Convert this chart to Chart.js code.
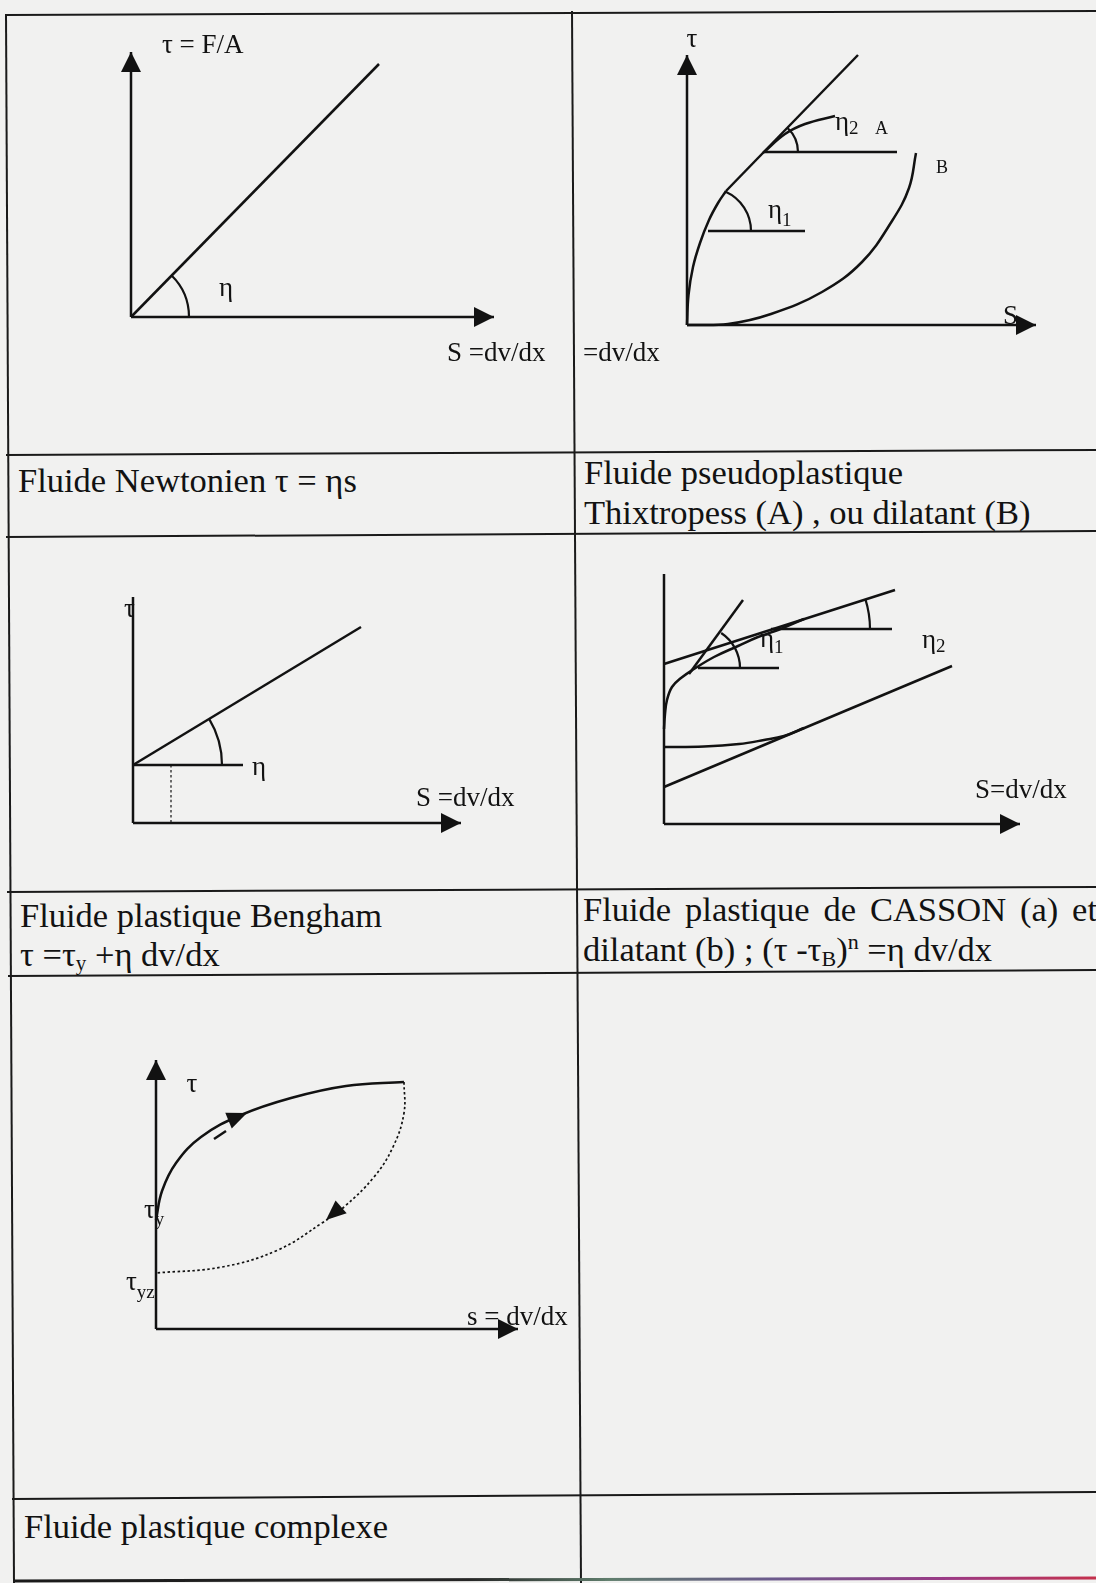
<!DOCTYPE html>
<html>
<head>
<meta charset="utf-8">
<script src="https://cdn.jsdelivr.net/npm/chart.js@4.4.1/dist/chart.umd.min.js"></script>
<style>
  html, body { margin: 0; padding: 0; background: #f1f1f0; }
  #page { position: relative; width: 1096px; height: 1583px; overflow: hidden; background: #f1f1f0; }
  #grid { position: absolute; left: 0; top: 0; }
  #grid text { font-family: "Liberation Serif", "Times New Roman", serif; font-size: 34.5px; fill: #121212; }
  canvas { position: absolute; }
</style>
</head>
<body>
<div id="page">
  <svg id="grid" width="1096" height="1583" xmlns="http://www.w3.org/2000/svg">
    <defs>
      <linearGradient id="bottomInk" x1="14" y1="0" x2="1096" y2="0" gradientUnits="userSpaceOnUse">
        <stop offset="0" stop-color="#1a1a1a"/>
        <stop offset="0.42" stop-color="#262626"/>
        <stop offset="0.55" stop-color="#5f7d6c"/>
        <stop offset="0.7" stop-color="#6b5a8c"/>
        <stop offset="0.86" stop-color="#9a3a86"/>
        <stop offset="1" stop-color="#c4304c"/>
      </linearGradient>
    </defs>
    <g stroke="#1a1a1a" stroke-width="2" fill="none">
      <line x1="6" y1="15" x2="1096" y2="11"/>
      <line x1="6" y1="455" x2="1096" y2="450"/>
      <line x1="6" y1="537" x2="1096" y2="531"/>
      <line x1="7" y1="892" x2="1096" y2="887"/>
      <line x1="8" y1="976" x2="1096" y2="970"/>
      <line x1="12" y1="1499" x2="1096" y2="1492"/>
      <line x1="6" y1="14" x2="14" y2="1583"/>
      <line x1="572" y1="11" x2="581" y2="1583"/>
    </g>
    <line x1="14" y1="1581" x2="1096" y2="1578" stroke="url(#bottomInk)" stroke-width="3"/>
    <text x="18" y="492">Fluide Newtonien τ = ηs</text>
    <text x="584" y="484">Fluide pseudoplastique</text>
    <text x="584" y="524">Thixtropess (A) , ou dilatant (B)</text>
    <text x="20" y="927">Fluide plastique Bengham</text>
    <text x="20" y="966">τ =τ<tspan font-size="21" dy="4">y</tspan><tspan dy="-4"> +η dv/dx</tspan></text>
    <text id="cassonLine" x="583" y="921">Fluide plastique de CASSON (a) et</text>
    <text x="583" y="961">dilatant (b) ; (τ -τ<tspan font-size="22" dy="5">B</tspan><tspan dy="-5">)</tspan><tspan font-size="22" dy="-12">n</tspan><tspan dy="12"> =η dv/dx</tspan></text>
    <text x="24" y="1538">Fluide plastique complexe</text>
  </svg>
</div>

<script>
// Units: every diagram uses the same abstract unit (shear rate on x, shear stress on y).

// ---- Fluide Newtonien : tau = eta * s ----
const newtonAxisX = [[0, 0], [36.3, 0]];
const newtonAxisY = [[0, 0], [0, 26.5]];
const newtonFlow  = [[0, 0], [24.8, 25.3]];

// ---- Fluide pseudoplastique (A) et dilatant (B) ----
const pseudoAxisX   = [[0, 0], [34.9, 0]];
const pseudoAxisY   = [[0, 0], [0, 27.0]];
const pseudoCurveA  = [[0, 0], [0.15, 3.0], [0.6, 5.8], [1.3, 8.2], [2.2, 10.5], [3.1, 12.2], [3.9, 13.4]];
const pseudoTangent = [[3.9, 13.4], [17.1, 27.0]];
const pseudoBranchA = [[7.6, 17.2], [9.8, 19.1], [11.8, 20.1], [14.8, 20.9]];
const pseudoCurveB  = [[0, 0], [4.1, 0.1], [8.4, 1.1], [13.5, 3.3], [17.5, 6.3],
                       [20.5, 10.4], [22.2, 13.7], [22.9, 17.2]];
const pseudoLevel1  = [[2.1, 9.4], [11.8, 9.4]];
const pseudoLevel2  = [[7.8, 17.3], [21.0, 17.3]];

// ---- Fluide plastique de Bingham : tau = tau_y + eta * s ----
const binghamAxisX = [[0, 0], [32.8, 0]];
const binghamAxisY = [[0, 0], [0, 22.6]];
const binghamFlow  = [[0, 5.8], [22.8, 19.6]];
const binghamLevel = [[0, 5.8], [11.0, 5.8]];
const binghamYield = [[3.8, 5.8], [3.8, 0]];

// ---- Fluide plastique de Casson (a) et dilatant (b) ----
const cassonAxisX   = [[0, 0], [35.6, 0]];
const cassonAxisY   = [[0, 0], [0, 25.0]];
const cassonCurveA  = [[0, 9.5], [0.1, 11.0], [0.3, 12.4], [0.8, 13.7], [1.7, 14.6], [3.0, 15.5],
                       [5.0, 16.7], [7.4, 17.8], [9.4, 18.7], [11.4, 19.4], [14.0, 20.5]];
const cassonLineA   = [[0, 16.0], [23.1, 23.4]];
const cassonTangent = [[2.5, 15.0], [7.9, 22.4]];
const cassonLevel1  = [[3.4, 15.6], [11.5, 15.6]];
const cassonLevel2  = [[10.7, 19.5], [22.8, 19.5]];
const cassonCurveB  = [[0, 7.7], [4.0, 7.75], [7.5, 8.0], [10.0, 8.4], [12.0, 8.8], [14.0, 9.6]];
const cassonLineB   = [[0, 3.7], [28.8, 15.8]];

// ---- Fluide plastique complexe (boucle d'hysteresis) ----
const complexAxisX     = [[0, 0], [36.2, 0]];
const complexAxisY     = [[0, 0], [0, 26.9]];
const complexLoad      = [[0, 10.9], [0.6, 13.8], [2.0, 16.6], [4.5, 19.2], [8.5, 21.4],
                          [13.5, 23.1], [19.0, 24.3], [24.8, 24.7]];
const complexUnload    = [[24.8, 24.7], [24.8, 21.6], [23.7, 18.2], [21.8, 15.2], [18.8, 12.2],
                          [16.6, 10.6], [12.2, 7.9], [6.6, 6.2], [0, 5.6]];
const complexUpArrow   = [[7.4, 20.9], [9.1, 21.6]];
const complexUpStroke  = [[5.8, 19.0], [7.0, 19.8]];
const complexDownArrow = [[18.5, 12.2], [17.0, 10.9]];

// ---------------------------------------------------------------------
const INK = '#121212';
const PX_PER_UNIT = 10;
const LABEL_FONT = '"Liberation Serif", "Times New Roman", serif';
const LABEL_SIZE = 27;

const toXY = arr => arr.map(p => ({ x: p[0], y: p[1] }));

function line(data, extra) {
  return Object.assign({
    data: toXY(data), showLine: true, borderColor: INK, borderWidth: 2.5,
    tension: 0, pointRadius: 0, fill: false
  }, extra || {});
}
const axis  = data => line(data, { arrowHead: { length: 20, half: 10 } });
const plain = data => line(data);
const curve = data => line(data, { tension: 0.4 });
const dotted = (data, w) => line(data, { borderDash: [2.5, 2.5], borderWidth: w || 1.7, tension: 0.4 });
const markerArrow = data => line(data, { showLine: false, arrowHead: { length: 20, half: 8.5 } });

// Arrow heads, angle arcs and text annotations placed through the chart scales
const sketchPlugin = {
  id: 'sketch',
  afterDatasetsDraw(chart, args, opts) {
    const ctx = chart.ctx, xs = chart.scales.x, ys = chart.scales.y;
    const P = p => [xs.getPixelForValue(p[0]), ys.getPixelForValue(p[1])];
    ctx.save();
    ctx.fillStyle = INK;
    ctx.strokeStyle = INK;

    chart.data.datasets.forEach((ds, i) => {
      if (!ds.arrowHead) return;
      const pts = chart.getDatasetMeta(i).data;
      const a = pts[pts.length - 2], b = pts[pts.length - 1];
      const ang = Math.atan2(b.y - a.y, b.x - a.x);
      const L = ds.arrowHead.length, H = ds.arrowHead.half;
      const bx = b.x - L * Math.cos(ang), by = b.y - L * Math.sin(ang);
      ctx.beginPath();
      ctx.moveTo(b.x, b.y);
      ctx.lineTo(bx + H * Math.sin(ang), by - H * Math.cos(ang));
      ctx.lineTo(bx - H * Math.sin(ang), by + H * Math.cos(ang));
      ctx.closePath();
      ctx.fill();
    });

    (opts.angles || []).forEach(m => {
      const c = P(m.vertex), t = P(m.toward);
      const r = xs.getPixelForValue(m.radius) - xs.getPixelForValue(0);
      const a1 = Math.atan2(t[1] - c[1], t[0] - c[0]);
      ctx.beginPath();
      ctx.lineWidth = 2.2;
      ctx.arc(c[0], c[1], r, a1, 0);
      ctx.stroke();
    });

    (opts.labels || []).forEach(l => {
      const size = l.size || LABEL_SIZE;
      const p = P(l.at);
      ctx.font = size + 'px ' + LABEL_FONT;
      ctx.textBaseline = 'alphabetic';
      ctx.textAlign = 'left';
      const w = ctx.measureText(l.text).width;
      let x = p[0];
      if (l.align === 'center') x -= w / 2;
      ctx.fillText(l.text, x, p[1]);
      if (l.sub) {
        const ss = l.subSize || 19;
        ctx.font = ss + 'px ' + LABEL_FONT;
        ctx.fillText(l.sub, x + w, p[1] + (l.subDrop == null ? 6 : l.subDrop));
      }
    });
    ctx.restore();
  }
};

const page = document.getElementById('page');

function diagram(frame, datasets, angles, labels) {
  const cv = document.createElement('canvas');
  cv.width = frame.w;
  cv.height = frame.h;
  cv.style.left = frame.left + 'px';
  cv.style.top = frame.top + 'px';
  page.appendChild(cv);
  const u = PX_PER_UNIT;
  new Chart(cv, {
    type: 'scatter',
    data: { datasets },
    options: {
      responsive: false,
      animation: false,
      events: [],
      layout: { padding: 0 },
      scales: {
        x: { type: 'linear', display: false, bounds: 'data',
             min: (frame.left - frame.ox) / u, max: (frame.left + frame.w - frame.ox) / u },
        y: { type: 'linear', display: false, bounds: 'data',
             min: (frame.oy - frame.top - frame.h) / u, max: (frame.oy - frame.top) / u }
      },
      elements: { point: { radius: 0, hoverRadius: 0 } },
      plugins: {
        legend: { display: false },
        tooltip: { enabled: false },
        sketch: { angles, labels }
      }
    },
    plugins: [sketchPlugin]
  });
}

// Fluide Newtonien
diagram({ left: 10, top: 18, w: 560, h: 434, ox: 131, oy: 317 },
  [axis(newtonAxisX), axis(newtonAxisY), plain(newtonFlow)],
  [{ vertex: [0, 0], radius: 5.8, toward: newtonFlow[1] }],
  [
    { text: 'τ = F/A', at: [3.1, 26.4] },
    { text: 'η', at: [9.5, 2.1], align: 'center' },
    { text: 'S =dv/dx', at: [31.6, -4.4] }
  ]);

// Fluide pseudoplastique / dilatant
diagram({ left: 576, top: 16, w: 520, h: 432, ox: 687, oy: 325 },
  [axis(pseudoAxisX), axis(pseudoAxisY), curve(pseudoCurveA), plain(pseudoTangent),
   curve(pseudoBranchA), curve(pseudoCurveB), plain(pseudoLevel1), plain(pseudoLevel2)],
  [
    { vertex: pseudoLevel1[0], radius: 4.3, toward: pseudoCurveA[6] },
    { vertex: pseudoLevel2[0], radius: 3.3, toward: pseudoTangent[1] }
  ],
  [
    { text: 'τ', at: [0.5, 27.8], align: 'center' },
    { text: 'η', sub: '1', at: [8.1, 10.7], subDrop: 8 },
    { text: 'η', sub: '2', at: [14.8, 19.5], subDrop: 4 },
    { text: 'A', at: [18.8, 19.1], size: 18 },
    { text: 'B', at: [24.9, 15.2], size: 18 },
    { text: 'S', at: [31.6, 0.1] },
    { text: '=dv/dx', at: [-10.4, -3.6] }
  ]);

// Fluide plastique de Bingham
diagram({ left: 10, top: 540, w: 560, h: 346, ox: 133, oy: 823 },
  [axis(binghamAxisX), plain(binghamAxisY), plain(binghamFlow), plain(binghamLevel),
   dotted(binghamYield, 1.2)],
  [{ vertex: binghamFlow[0], radius: 8.9, toward: binghamFlow[1] }],
  [
    { text: 'τ', at: [-0.35, 20.6], align: 'center' },
    { text: 'η', at: [11.9, 4.8] },
    { text: 'S =dv/dx', at: [28.3, 1.7] }
  ]);

// Fluide plastique de Casson / dilatant
diagram({ left: 578, top: 536, w: 518, h: 348, ox: 664, oy: 824 },
  [axis(cassonAxisX), plain(cassonAxisY), curve(cassonCurveA), plain(cassonLineA),
   plain(cassonTangent), plain(cassonLevel1), plain(cassonLevel2),
   curve(cassonCurveB), plain(cassonLineB)],
  [
    { vertex: cassonLevel1[0], radius: 4.2, toward: cassonTangent[1] },
    { vertex: cassonLevel2[0], radius: 9.9, toward: cassonLineA[1] }
  ],
  [
    { text: 'η', sub: '1', at: [9.6, 17.7], subDrop: 6 },
    { text: 'η', sub: '2', at: [25.8, 17.6], subDrop: 4 },
    { text: 'S=dv/dx', at: [31.1, 2.6] }
  ]);

// Fluide plastique complexe
diagram({ left: 12, top: 980, w: 562, h: 510, ox: 156, oy: 1329 },
  [axis(complexAxisX), axis(complexAxisY), curve(complexLoad), dotted(complexUnload),
   markerArrow(complexUpArrow), plain(complexUpStroke), markerArrow(complexDownArrow)],
  [],
  [
    { text: 'τ', at: [3.6, 23.7], align: 'center' },
    { text: 'τ', sub: 'y', at: [-1.2, 11.1], subDrop: 7 },
    { text: 'τ', sub: 'yz', at: [-3.0, 3.9], subDrop: 8 },
    { text: 's = dv/dx', at: [31.1, 0.4] }
  ]);

// Justify the first Casson caption line across the cell
(function () {
  const t = document.getElementById('cassonLine');
  const target = 1097 - 583;
  const natural = t.getComputedTextLength();
  const gaps = t.textContent.split(' ').length - 1;
  if (natural < target && gaps > 0) {
    t.setAttribute('word-spacing', ((target - natural) / gaps).toFixed(2));
  }
})();
</script>
</body>
</html>
